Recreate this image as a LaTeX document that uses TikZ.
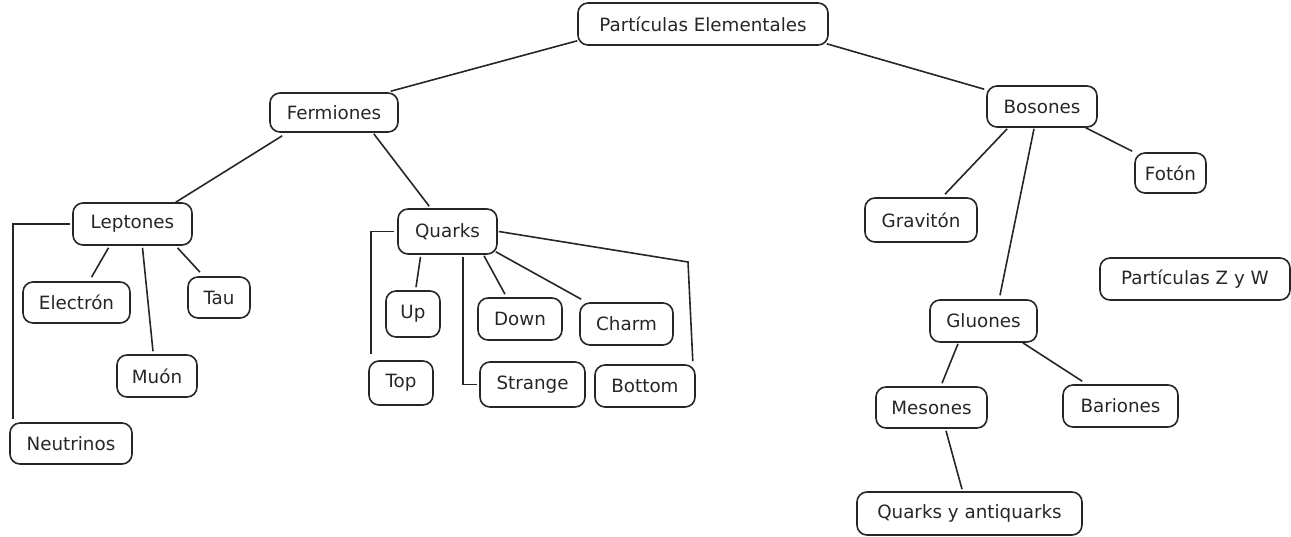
\documentclass[tikz,border=0pt]{standalone}
\usepackage{fontspec}
\setmainfont{DejaVu Sans}
\usetikzlibrary{calc}
\begin{document}
\begin{tikzpicture}[x=1pt,y=-1pt,
  box/.style={draw=black!85,line width=1.6pt,rounded corners=10pt,inner sep=0pt,
    font=\fontsize{18.3}{21}\selectfont,text=black!85},
  conn/.style={draw=black!85,line width=1.6pt}]
\useasboundingbox (0,0) rectangle (1291,536);
% nodes
\node[box,minimum width=250,minimum height=42] (pe) at (703,24) {Partículas Elementales};
\node[box,minimum width=128,minimum height=39] (ferm) at (334,112.5) {Fermiones};
\node[box,minimum width=110,minimum height=41] (bos) at (1042,106.5) {Bosones};
\node[box,minimum width=71,minimum height=40] (foton) at (1170.5,173) {Fotón};
\node[box,minimum width=112,minimum height=44] (grav) at (921,220) {Gravitón};
\node[box,minimum width=190,minimum height=42] (zw) at (1195,279) {Partículas Z y W};
\node[box,minimum width=107,minimum height=42] (glu) at (983.5,321) {Gluones};
\node[box,minimum width=111,minimum height=41] (mes) at (931.5,407.5) {Mesones};
\node[box,minimum width=115,minimum height=42] (bar) at (1120.5,406) {Bariones};
\node[box,minimum width=225,minimum height=43] (qya) at (969.5,513.5) {Quarks y antiquarks};
\node[box,minimum width=119,minimum height=42] (lep) at (132.5,224) {Leptones};
\node[box,minimum width=107,minimum height=41] (elec) at (76.5,302.5) {Electrón};
\node[box,minimum width=62,minimum height=41] (tau) at (219,297.5) {Tau};
\node[box,minimum width=80,minimum height=42] (muon) at (157,376) {Muón};
\node[box,minimum width=122,minimum height=41] (neut) at (71,443.5) {Neutrinos};
\node[box,minimum width=99,minimum height=45] (quarks) at (447.5,231.5) {Quarks};
\node[box,minimum width=54,minimum height=46] (up) at (413,314) {Up};
\node[box,minimum width=84,minimum height=42] (down) at (520,319) {Down};
\node[box,minimum width=93,minimum height=42] (charm) at (626.5,324) {Charm};
\node[box,minimum width=64,minimum height=44] (top) at (401,383) {Top};
\node[box,minimum width=105,minimum height=45] (strange) at (532.5,384.5) {Strange};
\node[box,minimum width=100,minimum height=42] (bottom) at (645,386) {Bottom};
\coordinate (qbbend) at (688,262);
% connectors
\draw[conn] ($(pe.south west)+(0,-5)$) -- ($(ferm.north east)+(-8,-1)$);
\draw[conn] ($(pe.south east)+(-2,-2)$) -- ($(bos.north west)+(-2,4)$);
\draw[conn] ($(ferm.south west)+(13,3)$) -- ($(lep.north east)+(-17,0)$);
\draw[conn] ($(ferm.south east)+(-25,1)$) -- ($(quarks.north west)+(32,-2)$);
\draw[conn] ($(lep.west)+(-2,0)$) -| ($(neut.north west)+(4,-3)$);
\draw[conn] ($(lep.south)+(-24,2)$) -- ($(elec.north)+(15,-4)$);
\draw[conn] ($(lep.south)+(10,2)$) -- ($(muon.north)+(-4,-3)$);
\draw[conn] ($(lep.south)+(45,2)$) -- ($(tau.north)+(-19,-4)$);
\draw[conn] ($(quarks.west)+(-3,0)$) -| ($(top.north west)+(3,-6)$);
\draw[conn] ($(quarks.south)+(-27,2)$) -- ($(up.north)+(3,-3)$);
\draw[conn] ($(quarks.south)+(15.5,2)$) |- ($(strange.west)+(-2,0)$);
\draw[conn] ($(quarks.south)+(36.5,1)$) -- ($(down.north)+(-15,-3)$);
\draw[conn] ($(quarks.south east)+(-2,-3)$) -- ($(charm.north west)+(2,-3)$);
\draw[conn] ($(quarks.east)+(1,0)$) -- (qbbend) -- ($(bottom.north east)+(-3,-3)$);
\draw[conn] ($(bos.south west)+(21,1)$) -- ($(grav.north)+(24,-3)$);
\draw[conn] ($(bos.south)+(-8,1)$) -- ($(glu.north)+(16.5,-4)$);
\draw[conn] ($(bos.south east)+(-12,0)$) -- ($(foton.north west)+(-2,-1)$);
\draw[conn] ($(glu.south)+(-25.5,1)$) -- ($(mes.north)+(10.5,-3)$);
\draw[conn] ($(glu.south east)+(-15,0)$) -- ($(bar.north west)+(20,-3)$);
\draw[conn] ($(mes.south)+(14.5,2)$) -- ($(qya.north)+(-7.5,-2)$);
\end{tikzpicture}
\end{document}
